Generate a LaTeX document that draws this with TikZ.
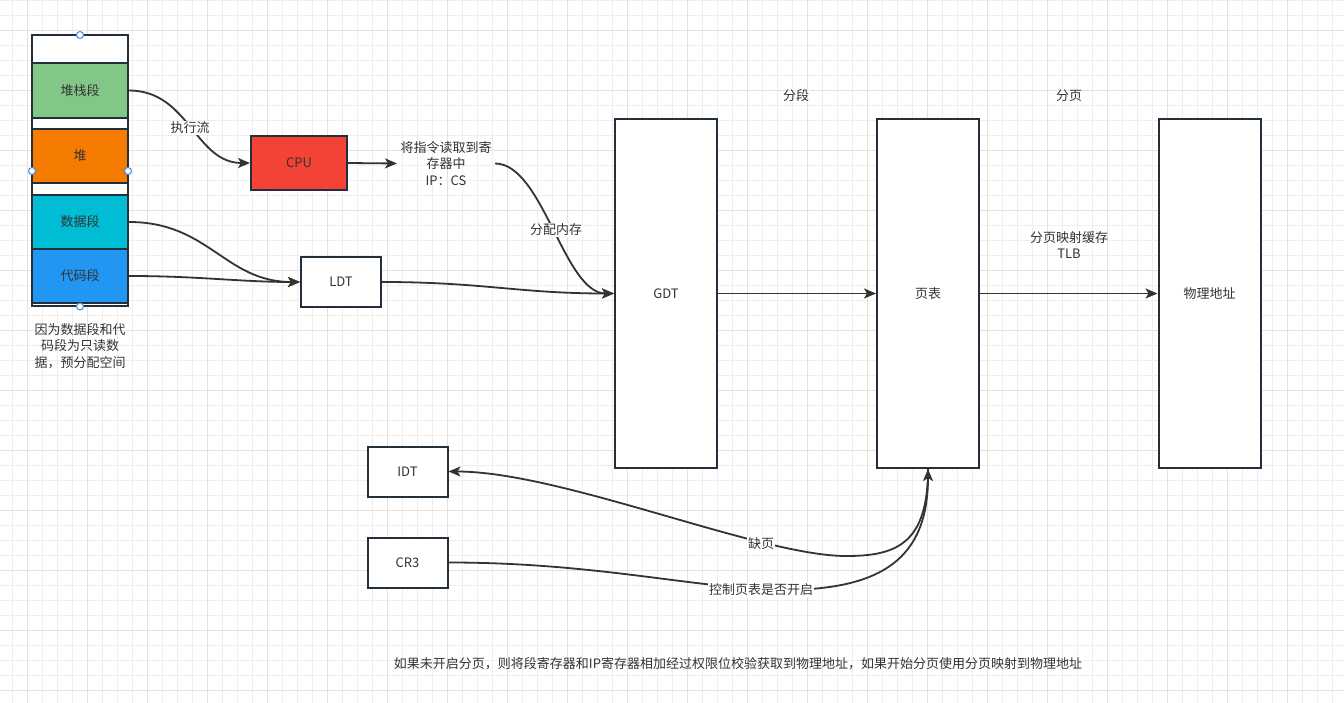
\documentclass[tikz,border=0pt]{standalone}
\usepackage{fontspec}
\setmainfont{Noto Sans CJK SC}
\usetikzlibrary{arrows.meta}
\definecolor{bdr}{HTML}{232F3B}
\definecolor{txtc}{HTML}{333333}
\definecolor{edgec}{HTML}{333333}
\definecolor{gmin}{HTML}{EEEEEE}
\definecolor{gmaj}{HTML}{E2E2E2}
\definecolor{cgreen}{HTML}{82C785}
\definecolor{corange}{HTML}{F57C00}
\definecolor{ccyan}{HTML}{00BCD4}
\definecolor{cblue}{HTML}{2196F3}
\definecolor{cred}{HTML}{F44336}
\definecolor{handle}{HTML}{3C8CE7}
\tikzset{
  lbl/.style={font=\fontsize{13}{16.5}\selectfont, text=txtc, align=center},
  boxn/.style={lbl, draw=bdr, line width=2pt, fill=white, inner sep=0pt},
  edge/.style={draw=edgec, line width=1.8pt, -{Stealth[length=12pt,width=10pt,inset=3pt]}},
  elabel/.style={lbl, fill=white, inner sep=1pt},
  hdl/.style={circle, draw=handle, fill=white, line width=1pt, minimum size=7pt, inner sep=0pt}
}
\begin{document}
\begin{tikzpicture}[x=1pt,y=-1pt]
\useasboundingbox (0,0) rectangle (1344,703);
\fill[white] (0,0) rectangle (1344,703);
% grid
\foreach \i in {0,...,89} \draw[gmin, line width=0.8pt] (12.7+15*\i,0) -- ++(0,703);
\foreach \i in {0,...,47} \draw[gmin, line width=0.8pt] (0,15*\i) -- ++(1344,0);
\foreach \i in {0,...,22} \draw[gmaj, line width=0.8pt] (27.7+60*\i,0) -- ++(0,703);
\foreach \i in {0,...,11} \draw[gmaj, line width=0.8pt] (0,30+60*\i) -- ++(1344,0);

% memory stack
\node[boxn, minimum width=96pt, minimum height=271.5pt] (stack) at (80,170.5) {};
\node[boxn, fill=cgreen, minimum width=96pt, minimum height=54.5pt] (stk) at (80,90.5) {堆栈段};
\node[boxn, fill=corange, minimum width=96pt, minimum height=54pt] (heap) at (80,156) {堆};
\node[boxn, fill=ccyan, minimum width=96pt, minimum height=54pt] (data) at (80,222) {数据段};
\node[boxn, fill=cblue, minimum width=96pt, minimum height=53.5pt] (code) at (80,276) {代码段};
\node[hdl] (h1) at (80,35) {};
\node[hdl] (h2) at (32,171) {};
\node[hdl] (h3) at (128,171) {};
\node[hdl] (h4) at (80,306.5) {};
\node[lbl] (note) at (80,346) {因为数据段和代\\码段为只读数\\据，预分配空间};

% boxes
\node[boxn, fill=cred, minimum width=96pt, minimum height=54pt] (cpu) at (299,163) {CPU};
\node[boxn, minimum width=80pt, minimum height=50pt] (ldt) at (341,282) {LDT};
\node[lbl] (txt) at (446,163.5) {将指令读取到寄\\存器中\\IP：CS};
\node[boxn, minimum width=102pt, minimum height=349pt] (gdt) at (666,293.5) {GDT};
\node[boxn, minimum width=102pt, minimum height=349pt] (pt) at (928,293.5) {页表};
\node[boxn, minimum width=102pt, minimum height=349pt] (phys) at (1209.5,293.5) {物理地址};
\node[boxn, minimum width=80pt, minimum height=50pt] (idt) at (407.5,471.5) {IDT};
\node[boxn, minimum width=80pt, minimum height=50pt] (cr3) at (407.5,562.5) {CR3};
\node[lbl] (seg) at (796,96) {分段};
\node[lbl] (pg) at (1069,96) {分页};
\node[lbl] (tlb) at (1069,245) {分页映射缓存\\TLB};
\node[lbl] (bottom) at (738,664) {如果未开启分页，则将段寄存器和IP寄存器相加经过权限位校验获取到物理地址，如果开始分页使用分页映射到物理地址};

% connectors
\draw[edge] (stk.east) .. controls +(60,0) and +(-55,0) .. (cpu.west);
\node[elabel] (l1) at (190,128) {执行流};
\draw[edge] (cpu.east) -- (txt.west);
\draw[edge] (data.east) .. controls +(80,0) and +(-75,0) .. (ldt.west);
\draw[edge] (code.east) .. controls +(70,0) and +(-60,0) .. (ldt.west);
\draw[edge] (ldt.east) .. controls +(100,0) and +(-95,0) .. (gdt.west);
\draw[edge] (txt.east) .. controls +(48,0) and +(-50,0) .. (gdt.west);
\node[elabel] (l2) at (556,230) {分配内存};
\draw[edge] (gdt.east) -- (pt.west);
\draw[edge] (pt.east) -- (phys.west);
\coordinate (m1) at (846,556);
\coordinate (m2) at (790,590);
\draw[edge] (pt.south) .. controls +(0,76) and +(49,0) .. (m1) .. controls +(-86,0) and +(113,0) .. (idt.east);
\draw[edge] (cr3.east) .. controls +(153,0) and +(-90,0) .. (m2) .. controls +(90,-2) and +(0,91) .. (pt.south);
\node[elabel] (l3) at (761,544) {缺页};
\node[elabel] (l4) at (761,590) {控制页表是否开启};
\end{tikzpicture}
\end{document}
